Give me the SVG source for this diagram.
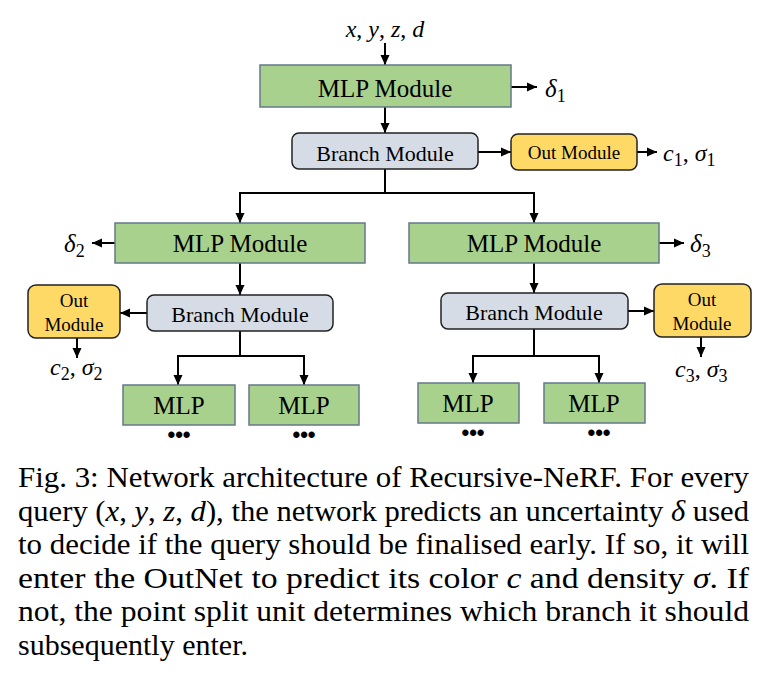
<svg xmlns="http://www.w3.org/2000/svg" width="776" height="680" viewBox="0 0 776 680">
<defs>
<marker id="ah" markerUnits="userSpaceOnUse" markerWidth="10" markerHeight="10" refX="10" refY="5" orient="auto">
<path d="M0,0.5 L10,5 L0,9.5 z" fill="#000"/>
</marker>
<style>
.mlp{fill:#a9d18e;stroke:#66788a;stroke-width:1.5}
.br{fill:#d6dce5;stroke:#222;stroke-width:1.5}
.out{fill:#ffd966;stroke:#222;stroke-width:1.5}
.t{font-family:"Liberation Serif","Times New Roman",serif;fill:#000;text-anchor:middle}
.m{font-family:"Liberation Serif","Times New Roman",serif;fill:#000;font-style:italic}
.sub{font-style:normal;font-size:18px}
.cn{fill:none;stroke:#000;stroke-width:2}
.ar{fill:none;stroke:#000;stroke-width:2;marker-end:url(#ah)}
.cap{font-family:"Liberation Serif","Times New Roman",serif;font-size:29px;fill:#000}
.dots{font-family:"Liberation Sans",Arial,sans-serif;font-size:22px;font-weight:bold;text-anchor:middle}
</style>
</defs>
<rect width="776" height="680" fill="#fff"/>

<g id="connectors">
<line class="ar" x1="385" y1="43" x2="385" y2="65"/>
<line class="ar" x1="511" y1="87" x2="537" y2="87"/>
<line class="ar" x1="385" y1="107" x2="385" y2="133"/>
<line class="ar" x1="478" y1="152" x2="511" y2="152"/>
<line class="ar" x1="637" y1="152" x2="657" y2="152"/>
<path class="cn" d="M385,169 V193 M239,193 H535"/>
<line class="ar" x1="240" y1="193" x2="240" y2="223"/>
<line class="ar" x1="534" y1="193" x2="534" y2="223"/>
<line class="ar" x1="115" y1="243" x2="92" y2="243"/>
<line class="ar" x1="659" y1="243" x2="684" y2="243"/>
<line class="ar" x1="240" y1="263" x2="240" y2="295"/>
<line class="ar" x1="534" y1="263" x2="534" y2="293"/>
<line class="ar" x1="147" y1="313" x2="120" y2="313"/>
<line class="ar" x1="628" y1="311" x2="654" y2="311"/>
<line class="ar" x1="77" y1="338" x2="77" y2="358"/>
<line class="ar" x1="701" y1="337" x2="701" y2="357"/>
<path class="cn" d="M240,331 V356 M177,356 H305"/>
<line class="ar" x1="178" y1="356" x2="178" y2="385"/>
<line class="ar" x1="304" y1="356" x2="304" y2="385"/>
<path class="cn" d="M534,329 V356 M472,356 H600"/>
<line class="ar" x1="473" y1="356" x2="473" y2="383"/>
<line class="ar" x1="599" y1="356" x2="599" y2="383"/>
</g>

<g id="input">
<text class="m" x="385" y="37" font-size="24" text-anchor="middle">x<tspan font-style="normal">, </tspan>y<tspan font-style="normal">, </tspan>z<tspan font-style="normal">, </tspan>d</text>
</g>

<g id="mlp1">
<rect class="mlp" x="260" y="65" width="251" height="42"/>
<text class="t" x="385" y="97" font-size="25">MLP Module</text>
</g>
<g id="delta1"><text class="m" x="545" y="97" font-size="25">δ<tspan class="sub" dy="5">1</tspan></text></g>

<g id="branch1">
<rect class="br" x="292" y="133" width="186" height="36" rx="7"/>
<text class="t" x="385" y="161" font-size="22">Branch Module</text>
</g>
<g id="out1">
<rect class="out" x="511" y="134" width="126" height="36" rx="7"/>
<text class="t" x="574" y="159" font-size="19">Out Module</text>
</g>
<g id="c1"><text class="m" x="663" y="161" font-size="24">c<tspan class="sub" dy="5">1</tspan><tspan font-style="normal" dy="-5">, </tspan>σ<tspan class="sub" dy="5">1</tspan></text></g>

<g id="mlp2">
<rect class="mlp" x="115" y="223" width="250" height="40"/>
<text class="t" x="240" y="252" font-size="25">MLP Module</text>
</g>
<g id="delta2"><text class="m" x="64" y="252" font-size="25">δ<tspan class="sub" dy="5">2</tspan></text></g>

<g id="mlp3">
<rect class="mlp" x="409" y="223" width="250" height="40"/>
<text class="t" x="534" y="252" font-size="25">MLP Module</text>
</g>
<g id="delta3"><text class="m" x="690" y="252" font-size="25">δ<tspan class="sub" dy="5">3</tspan></text></g>

<g id="branch2">
<rect class="br" x="147" y="295" width="186" height="36" rx="7"/>
<text class="t" x="240" y="322" font-size="22">Branch Module</text>
</g>
<g id="out2">
<rect class="out" x="28" y="285" width="92" height="53" rx="8"/>
<text class="t" x="74" y="307" font-size="19">Out</text>
<text class="t" x="74" y="331" font-size="19">Module</text>
</g>
<g id="c2"><text class="m" x="50" y="375" font-size="24">c<tspan class="sub" dy="5">2</tspan><tspan font-style="normal" dy="-5">, </tspan>σ<tspan class="sub" dy="5">2</tspan></text></g>

<g id="branch3">
<rect class="br" x="441" y="293" width="187" height="36" rx="7"/>
<text class="t" x="534" y="320" font-size="22">Branch Module</text>
</g>
<g id="out3">
<rect class="out" x="654" y="284" width="97" height="53" rx="8"/>
<text class="t" x="702" y="306" font-size="19">Out</text>
<text class="t" x="702" y="330" font-size="19">Module</text>
</g>
<g id="c3"><text class="m" x="675" y="377" font-size="24">c<tspan class="sub" dy="5">3</tspan><tspan font-style="normal" dy="-5">, </tspan>σ<tspan class="sub" dy="5">3</tspan></text></g>

<g id="mlp4">
<rect class="mlp" x="123" y="385" width="112" height="40"/>
<text class="t" x="179" y="414" font-size="25">MLP</text>
<text class="dots" x="179" y="442">•••</text>
</g>
<g id="mlp5">
<rect class="mlp" x="249" y="385" width="110" height="40"/>
<text class="t" x="304" y="414" font-size="25">MLP</text>
<text class="dots" x="304" y="442">•••</text>
</g>
<g id="mlp6">
<rect class="mlp" x="418" y="383" width="101" height="40"/>
<text class="t" x="468" y="412" font-size="25">MLP</text>
<text class="dots" x="473" y="440">•••</text>
</g>
<g id="mlp7">
<rect class="mlp" x="544" y="383" width="101" height="40"/>
<text class="t" x="594" y="412" font-size="25">MLP</text>
<text class="dots" x="599" y="440">•••</text>
</g>

<g id="caption">
<text class="cap" x="18" y="487" textLength="731" lengthAdjust="spacingAndGlyphs">Fig. 3: Network architecture of Recursive-NeRF. For every</text>
<text class="cap" x="18" y="521" textLength="731" lengthAdjust="spacingAndGlyphs">query (<tspan font-style="italic">x</tspan>, <tspan font-style="italic">y</tspan>, <tspan font-style="italic">z</tspan>, <tspan font-style="italic">d</tspan>), the network predicts an uncertainty <tspan font-style="italic">δ</tspan> used</text>
<text class="cap" x="18" y="554" textLength="731" lengthAdjust="spacingAndGlyphs">to decide if the query should be finalised early. If so, it will</text>
<text class="cap" x="18" y="588" textLength="731" lengthAdjust="spacingAndGlyphs">enter the OutNet to predict its color <tspan font-style="italic">c</tspan> and density <tspan font-style="italic">σ</tspan>. If</text>
<text class="cap" x="18" y="621" textLength="731" lengthAdjust="spacingAndGlyphs">not, the point split unit determines which branch it should</text>
<text class="cap" x="18" y="655" textLength="230" lengthAdjust="spacingAndGlyphs">subsequently enter.</text>
</g>
</svg>
